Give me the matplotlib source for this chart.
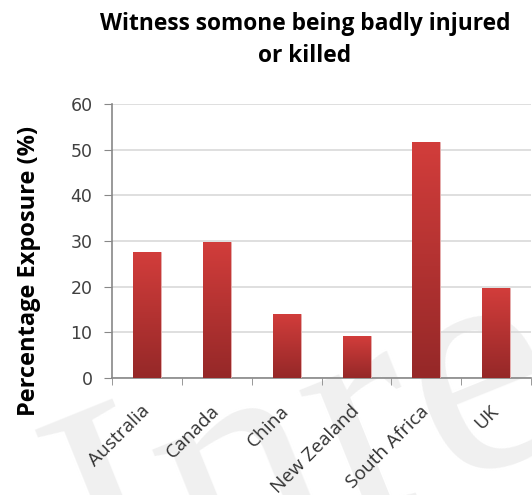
import numpy as np
import matplotlib.pyplot as plt
from matplotlib.colors import LinearSegmentedColormap

countries = ["Australia", "Canada", "China", "New Zealand", "South Africa", "UK"]
exposure = [27.5, 29.8, 14.1, 9.1, 51.6, 19.6]
yticks = [0, 10, 20, 30, 40, 50, 60]

fig = plt.figure(figsize=(5.32, 4.95), dpi=100)
ax = fig.add_axes([0.2105, 0.2364, 0.788, 0.5536])
ax.set_facecolor("none")

# faint watermark behind the chart
fig.text(0.19, -0.26, "Inre", fontsize=230, family="Liberation Serif",
         color="#f0f0f0", rotation=22, rotation_mode="anchor",
         ha="left", va="baseline", zorder=-5)

x = np.arange(len(countries))
bars = ax.bar(x, exposure, width=0.4, color="#b83434", edgecolor="#e8b0b0",
              linewidth=0.6, zorder=3)

# vertical red gradient inside each bar
cmap = LinearSegmentedColormap.from_list("redgrad", ["#952828", "#d23d3b"])
grad = np.linspace(0, 1, 256).reshape(-1, 1)
for b in bars:
    im = ax.imshow(grad, cmap=cmap, aspect="auto", origin="lower",
                   extent=[b.get_x(), b.get_x() + b.get_width(), 0, b.get_height()],
                   zorder=3.5)
    im.set_clip_path(b)

ax.set_xlim(-0.5, len(countries) - 0.5)
ax.set_ylim(0, 60)
ax.set_yticks(yticks)
ax.set_yticklabels([str(t) for t in yticks], fontsize=12.5, color="#404040",
                   family="DejaVu Sans")
ax.yaxis.grid(True, color="#d9d9d9", linewidth=1.2, zorder=0)
ax.set_axisbelow(True)

ax.set_xticks(x)
ax.set_xticklabels(countries, rotation=45, ha="right", va="center",
                   rotation_mode="anchor", fontsize=13.8, family="Open Sans",
                   color="#333333")
ax.set_xticks(np.arange(len(countries) + 1) - 0.5, minor=True)
ax.tick_params(axis="x", which="major", length=0, pad=22)
ax.tick_params(axis="x", which="minor", length=5, color="#888888", direction="out")
ax.tick_params(axis="y", length=6, color="#888888", direction="out", pad=8)

for s in ["top", "right"]:
    ax.spines[s].set_visible(False)
for s in ["left", "bottom"]:
    ax.spines[s].set_color("#888888")
    ax.spines[s].set_linewidth(1.2)

ax.set_ylabel("Percentage Exposure (%)", fontsize=17, fontweight="bold",
              family="Open Sans")
ax.yaxis.set_label_coords(-0.169, 0.39)
fig.text(0.573, 0.975, "Witness somone being badly injured\nor killed",
         ha="center", va="top", fontsize=16.4, fontweight="bold",
         family="Open Sans", linespacing=1.45)

fig.savefig("out.png", dpi=100)
